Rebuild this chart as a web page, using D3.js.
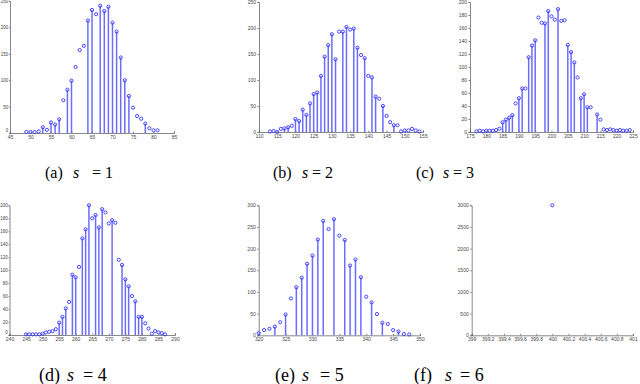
<!DOCTYPE html>
<html lang="en">
<head>
<meta charset="UTF-8">
<title>Stem plots, s = 1..6</title>
<script src="https://cdn.jsdelivr.net/npm/d3@7"></script>
<style>
    body { margin: 0; background: #fff; }
    svg { display: block; }
    .tick text { font-family: "Liberation Sans", sans-serif; font-size: 5px; fill: #444; }
    .edge .tick text { font-size: 4.5px; }
    .caption { font-family: "Liberation Serif", "Times New Roman", serif; fill: #000; }
</style>
</head>
<body>
<svg id="chart" width="640" height="384"></svg>
<script>
// (a) s = 1
const aX = [49,50,51,52,53,54,55,56,57,58,59,60,61,62,63,64,65,66,67,68,69,70,71,72,73,74,75,76,77,78,79,80,81];
const aY = [2,2,2,3,11,6,20,16,26,62,82,99,125,157,165,213,233,225,241,231,239,209,192,143,100,70,48,32,27,18,9,5,5];
const aStem = [0,0,0,0,1,0,1,1,1,0,1,1,0,0,0,1,1,0,1,1,1,1,1,1,1,1,0,0,0,1,0,0,0];

// (b) s = 2
const bX = d3.range(113, 155);
const bY = [1,2,0,6,7,9,12,25,21,43,33,55,73,76,108,145,167,188,140,193,193,202,197,199,162,148,142,108,105,68,64,50,31,19,13,13,1,3,3,6,3,1];
const bStem = [0,0,0,0,1,1,0,1,1,1,1,1,1,1,1,1,1,1,1,0,1,1,0,1,1,0,1,0,1,1,0,1,0,0,1,0,0,0,0,0,0,0];

// (c) s = 3
const cX = [177,178,179,180,181,182,183,184,185,186,187,188,189,190,191,192,193,194,195,196,197,198,199,200,201,202,203,204,205,206,207,208,209,210,211,212,214,215,216,217,218,219,220,221,222,223,224];
const cY = [1,2,1,2,2,2,3,5,15,19,22,26,44,52,67,67,115,133,141,176,168,167,186,178,173,189,171,172,134,123,107,84,52,58,38,38,27,19,4,3,4,3,2,3,2,2,3];
const cStem = [0,0,0,0,0,0,0,0,1,1,1,1,0,1,1,0,1,1,1,0,0,1,1,0,0,1,0,0,1,1,1,0,1,1,1,0,1,0,0,0,0,0,0,0,0,0,0];

// (d) s = 4
const dX = d3.range(245, 288);
const dY = [1,1,1,1,1,2,4,5,6,9,19,28,41,51,93,89,105,149,163,200,180,185,166,194,189,172,177,173,116,108,86,75,60,52,28,28,18,10,2,6,4,3,1];
const dStem = [0,0,0,0,0,0,0,0,0,0,1,1,1,0,1,1,0,1,1,1,0,1,1,1,0,0,1,0,0,1,1,1,0,1,1,1,0,0,0,0,0,0,0];

// (e) s = 5
const eX = d3.range(320, 349);
const eY = [5,12,15,20,30,48,85,111,133,165,184,221,264,245,268,230,220,161,175,134,89,76,49,29,26,12,9,3,2];
const eStem = [0,0,0,1,0,1,0,1,1,1,1,1,1,0,1,0,1,1,1,1,0,1,0,1,0,0,1,0,0];

// (f) s = 6
const fX = [400];
const fY = [3000];
const fStem = [0];

// axis ticks
const aXTicks = d3.range(45, 86, 5), aYTicks = d3.range(0, 251, 50);
const bXTicks = d3.range(110, 156, 5), bYTicks = d3.range(0, 251, 50);
const cXTicks = d3.range(175, 226, 5), cYTicks = d3.range(0, 201, 20);
const dXTicks = d3.range(240, 291, 5), dYTicks = d3.range(0, 201, 20);
const eXTicks = d3.range(320, 351, 5), eYTicks = d3.range(0, 301, 50);
const fXTicks = [399, 399.2, 399.4, 399.6, 399.8, 400, 400.2, 400.4, 400.6, 400.8, 401];
const fYTicks = [0, 500, 1000, 1500, 2000, 2500, 3000];

const captions = ["(a)", "(b)", "(c)", "(d)", "(e)", "(f)"];
const sValues = [1, 2, 3, 4, 5, 6];

// panel boxes [left, right, top, bottom] and caption placement
const panels = [
    { x: aX, y: aY, stem: aStem, xt: aXTicks, yt: aYTicks, box: [10, 174, 1, 133], cap: [45, 73, 92, 178, 16], edge: true },
    { x: bX, y: bY, stem: bStem, xt: bXTicks, yt: bYTicks, box: [259, 423, 2, 132], cap: [273, 302, 312, 178, 16] },
    { x: cX, y: cY, stem: cStem, xt: cXTicks, yt: cYTicks, box: [470, 633, 2, 132], cap: [416, 443, 453, 178, 16] },
    { x: dX, y: dY, stem: dStem, xt: dXTicks, yt: dYTicks, box: [9.5, 175, 205.3, 335], cap: [39, 67, 83, 381, 18], edge: true },
    { x: eX, y: eY, stem: eStem, xt: eXTicks, yt: eYTicks, box: [258.7, 420, 205.3, 335.3], cap: [275, 302, 320, 381, 18] },
    { x: fX, y: fY, stem: fStem, xt: fXTicks, yt: fYTicks, box: [471.7, 633, 205.3, 335.3], cap: [414, 445, 460, 381, 18] }
];

const svg = d3.select("#chart");
const fmt = d => +d.toFixed(1);

panels.forEach((p, i) => {
    const [x0, x1, y0, y1] = p.box;
    const xs = d3.scaleLinear().domain(d3.extent(p.xt)).range([x0, x1]);
    const ys = d3.scaleLinear().domain(d3.extent(p.yt)).range([y1, y0]);
    const g = svg.append("g");

    g.append("g")
        .attr("transform", `translate(0,${y1})`)
        .call(d3.axisBottom(xs).tickValues(p.xt).tickSize(-1.5).tickPadding(2.5).tickFormat(fmt))
        .call(a => a.selectAll("path, line").attr("stroke", "#555").attr("stroke-width", 0.7));

    const yAx = g.append("g")
        .attr("class", p.edge ? "edge" : null)
        .attr("transform", `translate(${x0},0)`)
        .call(d3.axisLeft(ys).tickValues(p.yt).tickSize(p.edge ? 1 : 1.5).tickPadding(p.edge ? 0.8 : 1.5).tickFormat(fmt))
        .call(a => a.selectAll("path, line").attr("stroke", "#555").attr("stroke-width", 0.7));
    // lift the zero label of the edge panels clear of the first x label
    if (p.edge) yAx.selectAll(".tick text").filter(d => d === 0).attr("dy", "-0.4em");

    const pts = p.x.map((v, k) => ({ x: v, y: p.y[k], s: p.stem[k] }));

    g.selectAll(".stem")
        .data(pts.filter(d => d.s))
        .join("line")
        .attr("x1", d => xs(d.x)).attr("x2", d => xs(d.x))
        .attr("y1", ys(0)).attr("y2", d => ys(d.y))
        .attr("stroke", "#6c6cff")
        .attr("stroke-width", 1.5);

    g.selectAll(".mk")
        .data(pts)
        .join("circle")
        .attr("cx", d => xs(d.x))
        .attr("cy", d => ys(d.y))
        .attr("r", 1.6)
        .attr("fill", "none")
        .attr("stroke", "#3434ff")
        .attr("stroke-width", 0.9);

    const [cx, sx, ex, by, fs] = p.cap;
    const t = svg.append("text").attr("class", "caption").attr("y", by).attr("font-size", fs);
    t.append("tspan").attr("x", cx).text(captions[i]);
    t.append("tspan").attr("x", sx).attr("font-style", "italic").text("s");
    t.append("tspan").attr("x", ex).text("= " + sValues[i]);
});
</script>
</body>
</html>
